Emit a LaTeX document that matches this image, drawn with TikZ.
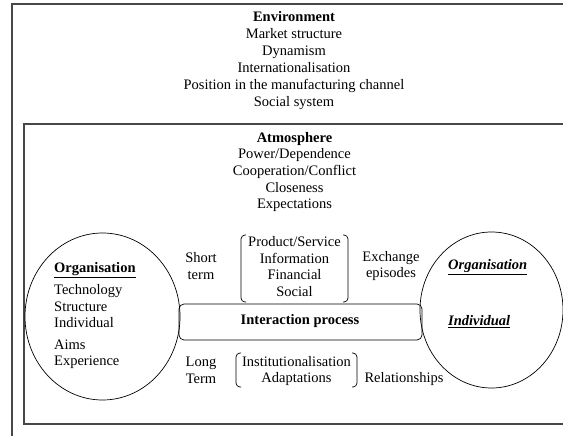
\documentclass[tikz,border=0pt]{standalone}
\usepackage{fontspec}
\setmainfont{Liberation Serif}
\usetikzlibrary{shapes.geometric}

\tikzset{
  frameline/.style={draw=black!72, line width=1.1pt},
  ring/.style={draw=black, line width=0.7pt},
  txt/.style={inner sep=0pt, font=\fontsize{14.5}{16.6}\selectfont},
  ctxt/.style={txt, align=center},
  ltxt/.style={txt, align=left, anchor=west},
  bracketline/.style={draw=black, line width=0.7pt, rounded corners=4pt},
  procbox/.style={draw=black, line width=0.7pt, rounded corners=5pt},
}
\newcommand{\ulword}[1]{\underline{#1}}

\begin{document}
\begin{tikzpicture}[x=1pt, y=-1pt]
  \useasboundingbox (0,0) rectangle (563,436);

  % outer (environment) and inner (atmosphere) frames, running off the page
  \begin{scope}
    \clip (0,0) rectangle (563,436);
    \coordinate (envBL) at (12,440);
    \coordinate (envTL) at (12,4);
    \coordinate (envTR) at (570,4);
    \draw[frameline] (envBL) -- (envTL) -- (envTR);
    \coordinate (atmTR) at (570,124);
    \coordinate (atmTL) at (24,124);
    \coordinate (atmBL) at (24,424);
    \coordinate (atmBR) at (570,424);
    \draw[frameline] (atmTR) -- (atmTL) -- (atmBL) -- (atmBR);
  \end{scope}

  % environment list
  \node[ctxt, font=\fontsize{14.5}{16.9}\selectfont] (env) at (294,60.5) {\textbf{Environment}\\Market structure\\Dynamism\\Internationalisation\\Position in the manufacturing channel\\Social system};

  % atmosphere list
  \node[ctxt] (atm) at (294.5,172) {\textbf{Atmosphere}\\Power/Dependence\\Cooperation/Conflict\\Closeness\\Expectations};

  % the two parties
  \node[ellipse, ring, minimum width=155pt, minimum height=167pt, inner sep=0pt] (orgL) at (102.5,316.5) {};
  \node[ellipse, ring, minimum width=143pt, minimum height=156pt, inner sep=0pt] (orgR) at (491.5,310) {};

  \node[ltxt] (orgLtext) at (54,316) {\textbf{\ulword{Organisation}}\\[5pt]Technology\\Structure\\Individual\\[5pt]Aims\\Experience};

  \node[ltxt] (orgRorg) at (448,267) {\textbf{\textit{\ulword{Organisation}}}};
  \node[ltxt] (orgRind) at (448,322) {\textbf{\textit{\ulword{Individual}}}};

  % interaction process
  \node[procbox, minimum width=243pt, minimum height=36pt, inner sep=0pt] (proc) at (300.5,322) {};
  \node[txt] (proctext) at (300,321) {\textbf{Interaction process}};

  % short-term exchange episodes
  \node[ctxt] (short) at (201,266) {Short\\term};
  \node[ctxt] (exch) at (294.5,266.5) {Product/Service\\Information\\Financial\\Social};
  \node[ctxt] (episodes) at (391,266) {Exchange\\episodes};

  \coordinate (exTL) at (246,235);
  \coordinate (exTLc) at (241,235);
  \coordinate (exBLc) at (241,302);
  \coordinate (exBL) at (246,302);
  \draw[bracketline] (exTL) -- (exTLc) -- (exBLc) -- (exBL);
  \coordinate (exTR) at (343,235);
  \coordinate (exTRc) at (348,235);
  \coordinate (exBRc) at (348,302);
  \coordinate (exBR) at (343,302);
  \draw[bracketline] (exTR) -- (exTRc) -- (exBRc) -- (exBR);

  % long-term relationships
  \node[ctxt] (long) at (201,370.5) {Long\\Term};
  \node[ctxt] (inst) at (296.5,371) {Institutionalisation\\Adaptations};
  \node[txt] (rel) at (404,379) {Relationships};

  \coordinate (inTL) at (241,353);
  \coordinate (inTLc) at (236,353);
  \coordinate (inBLc) at (236,387);
  \coordinate (inBL) at (241,387);
  \draw[bracketline] (inTL) -- (inTLc) -- (inBLc) -- (inBL);
  \coordinate (inTR) at (352,353);
  \coordinate (inTRc) at (357,353);
  \coordinate (inBRc) at (357,387);
  \coordinate (inBR) at (352,387);
  \draw[bracketline] (inTR) -- (inTRc) -- (inBRc) -- (inBR);
\end{tikzpicture}
\end{document}
